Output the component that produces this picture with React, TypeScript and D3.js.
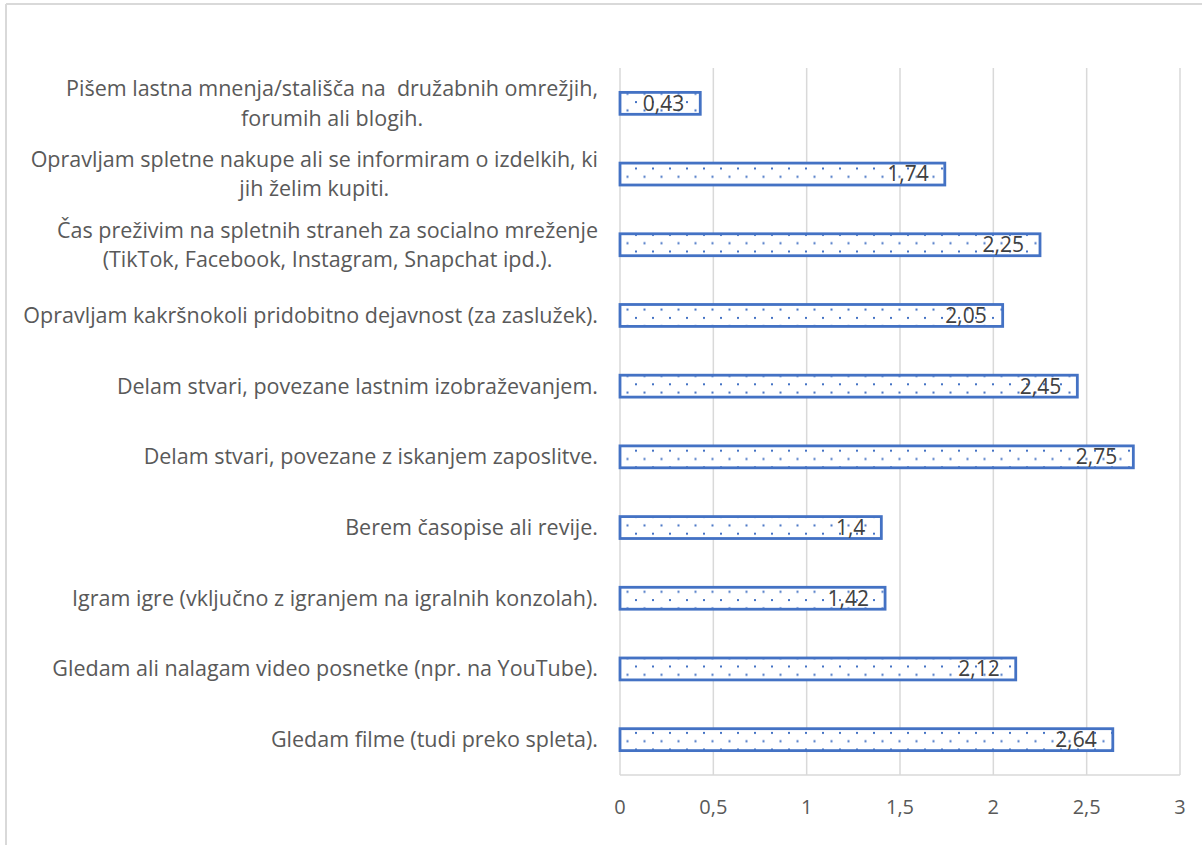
import React, { useEffect, useRef } from 'react';
import * as d3 from 'd3';

// categories top to bottom, each split in the lines shown on the chart
const categories = [
  ['Pišem lastna mnenja/stališča na  družabnih omrežjih,', 'forumih ali blogih.'],
  ['Opravljam spletne nakupe ali se informiram o izdelkih, ki', 'jih želim kupiti.'],
  ['Čas preživim na spletnih straneh za socialno mreženje', '(TikTok, Facebook, Instagram, Snapchat ipd.).'],
  ['Opravljam kakršnokoli pridobitno dejavnost (za zaslužek).'],
  ['Delam stvari, povezane lastnim izobraževanjem.'],
  ['Delam stvari, povezane z iskanjem zaposlitve.'],
  ['Berem časopise ali revije.'],
  ['Igram igre (vključno z igranjem na igralnih konzolah).'],
  ['Gledam ali nalagam video posnetke (npr. na YouTube).'],
  ['Gledam filme (tudi preko spleta).'],
];
const values = [0.43, 1.74, 2.25, 2.05, 2.45, 2.75, 1.4, 1.42, 2.12, 2.64];
const xTicks = [0, 0.5, 1, 1.5, 2, 2.5, 3];

const W = 1202;
const H = 845;
const FONT = '"Open Sans", sans-serif';
const BLUE = '#4472C4';

const loc = d3.formatLocale({ decimal: ',', thousands: '.', grouping: [3], currency: ['', ''] });
const fmt = (v: number) => loc.format('~g')(v);

export default function App() {
  const ref = useRef<SVGSVGElement>(null);

  useEffect(() => {
    const svg = d3.select(ref.current);
    svg.selectAll('*').remove();

    const x = d3.scaleLinear().domain([0, 3]).range([620, 1180]);
    const y = d3
      .scaleBand<number>()
      .domain(d3.range(values.length))
      .range([68, 775])
      .paddingInner(0.69)
      .paddingOuter(0.345);

    const defs = svg.append('defs');
    const pat = defs
      .append('pattern')
      .attr('id', 'dots')
      .attr('patternUnits', 'userSpaceOnUse')
      .attr('width', 17)
      .attr('height', 16.6)
      .attr('x', 6)
      .attr('y', 1.5);
    pat.append('rect').attr('width', 17).attr('height', 16.6).attr('fill', '#fff');
    pat.append('rect').attr('x', 0).attr('y', 0).attr('width', 2).attr('height', 2).attr('fill', BLUE);
    pat.append('rect').attr('x', 8.5).attr('y', 8.3).attr('width', 2).attr('height', 2).attr('fill', BLUE);

    // outer chart border (top and left visible)
    svg.append('line').attr('x1', 6).attr('x2', W).attr('y1', 4).attr('y2', 4)
      .attr('stroke', '#d9d9d9').attr('stroke-width', 2);
    svg.append('line').attr('x1', 6).attr('x2', 6).attr('y1', 4).attr('y2', H)
      .attr('stroke', '#d9d9d9').attr('stroke-width', 2);

    // gridlines
    svg.append('g')
      .selectAll('line')
      .data(xTicks)
      .join('line')
      .attr('x1', d => x(d))
      .attr('x2', d => x(d))
      .attr('y1', 68)
      .attr('y2', 775)
      .attr('stroke', '#d9d9d9')
      .attr('stroke-width', 1.5);
    svg.append('line').attr('x1', x(0)).attr('x2', x(3)).attr('y1', 775).attr('y2', 775)
      .attr('stroke', '#d9d9d9').attr('stroke-width', 1.5);

    // x tick labels
    svg.append('g')
      .selectAll('text')
      .data(xTicks)
      .join('text')
      .attr('x', d => x(d))
      .attr('y', 807)
      .attr('dy', '0.35em')
      .attr('text-anchor', 'middle')
      .attr('font-family', FONT)
      .attr('font-size', 20)
      .attr('fill', '#595959')
      .text(d => fmt(d));

    // bars
    svg.append('g')
      .selectAll('rect')
      .data(values)
      .join('rect')
      .attr('x', x(0))
      .attr('y', (d, i) => y(i)!)
      .attr('width', d => x(d) - x(0))
      .attr('height', y.bandwidth())
      .attr('fill', 'url(#dots)')
      .attr('stroke', BLUE)
      .attr('stroke-width', 2.8);

    // data labels
    svg.append('g')
      .selectAll('text')
      .data(values)
      .join('text')
      .attr('x', d => x(d) - 16)
      .attr('y', (d, i) => y(i)! + y.bandwidth() / 2)
      .attr('dy', '0.35em')
      .attr('text-anchor', 'end')
      .attr('font-family', FONT)
      .attr('font-size', 21)
      .attr('fill', '#404040')
      .text(d => fmt(d));

    // category labels, wrapped lines centred inside a right-aligned block
    const lineGap = 29.5;
    const labels = svg.append('g')
      .attr('font-family', FONT)
      .attr('font-size', 21.5)
      .attr('fill', '#595959');
    categories.forEach((lines, i) => {
      const cy = y(i)! + y.bandwidth() / 2;
      const top = cy - ((lines.length - 1) * lineGap) / 2;
      const first = labels.append('text')
        .attr('x', 598)
        .attr('y', top)
        .attr('dy', '0.35em')
        .attr('text-anchor', 'end')
        .attr('xml:space', 'preserve')
        .style('white-space', 'pre')
        .text(lines[0]);
      const w = (first.node() as SVGTextElement).getComputedTextLength();
      lines.slice(1).forEach((t, j) => {
        labels.append('text')
          .attr('x', 598 - w / 2)
          .attr('y', top + (j + 1) * lineGap)
          .attr('dy', '0.35em')
          .attr('text-anchor', 'middle')
          .attr('xml:space', 'preserve')
          .style('white-space', 'pre')
          .text(t);
      });
    });
  }, []);

  return (
    <svg
      ref={ref}
      width={W}
      height={H}
      style={{ position: 'absolute', left: 0, top: 0, background: '#fff' }}
    />
  );
}
